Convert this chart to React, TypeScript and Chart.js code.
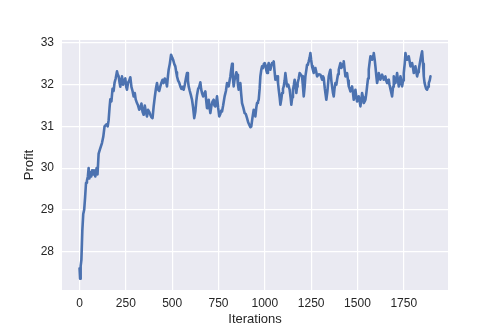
import React, { useEffect, useRef } from "react";
import { Chart, registerables } from "chart.js";

Chart.register(...registerables);

const iterations: number[] = [
  0, 3, 6, 10, 15, 20, 25, 30, 35, 40, 45, 49, 53, 58, 63, 68, 73, 78, 85, 92, 97,
  103, 110, 121, 128, 135, 145, 152, 157, 162, 166, 172, 178, 184, 189, 195, 202, 206,
  211, 216, 220, 225, 229, 235, 241, 247, 252, 256, 262, 268, 274, 280, 286, 292, 298,
  303, 310, 316, 322, 328, 334, 340, 346, 352, 358, 364, 370, 376, 382, 388, 394, 400,
  406, 412, 418, 424, 430, 436, 442, 448, 454, 460, 466, 472, 477, 481, 487, 494, 500,
  505, 511, 517, 522, 526, 532, 538, 544, 550, 556, 562, 568, 574, 580, 585, 589, 595,
  601, 607, 613, 619, 625, 630, 634, 640, 646, 652, 656, 661, 667, 673, 679, 684, 688,
  693, 697, 702, 706, 712, 718, 724, 728, 733, 738, 742, 748, 754, 760, 765, 769, 775,
  783, 790, 796, 805, 810, 814, 818, 823, 827, 832, 836, 841, 846, 850, 855, 859, 864,
  868, 872, 877, 884, 891, 897, 904, 910, 916, 922, 927, 933, 940, 944, 949, 954, 958,
  963, 967, 972, 976, 981, 985, 990, 995, 999, 1003, 1008, 1012, 1017, 1021, 1026, 1030,
  1035, 1039, 1044, 1048, 1052, 1057, 1062, 1066, 1071, 1075, 1080, 1084, 1089, 1093,
  1098, 1102, 1107, 1111, 1116, 1120, 1127, 1134, 1139, 1143, 1148, 1152, 1157, 1161,
  1166, 1170, 1174, 1177, 1183, 1188, 1195, 1201, 1206, 1210, 1215, 1219, 1224, 1228,
  1233, 1237, 1242, 1246, 1250, 1255, 1260, 1264, 1268, 1273, 1278, 1282, 1291, 1300,
  1305, 1309, 1314, 1318, 1324, 1332, 1338, 1345, 1350, 1354, 1359, 1363, 1368, 1372,
  1376, 1381, 1386, 1390, 1395, 1399, 1404, 1408, 1413, 1417, 1422, 1426, 1431, 1435,
  1440, 1444, 1449, 1453, 1458, 1462, 1467, 1471, 1476, 1480, 1485, 1489, 1494, 1498,
  1503, 1507, 1512, 1516, 1521, 1525, 1530, 1534, 1539, 1543, 1548, 1552, 1557, 1561,
  1566, 1570, 1575, 1579, 1584, 1588, 1593, 1597, 1602, 1606, 1611, 1615, 1620, 1624,
  1629, 1633, 1638, 1642, 1646, 1651, 1655, 1660, 1664, 1669, 1673, 1678, 1683, 1687,
  1692, 1696, 1701, 1705, 1710, 1714, 1719, 1723, 1728, 1732, 1737, 1741, 1746, 1750,
  1755, 1759, 1764, 1768, 1773, 1777, 1782, 1786, 1791, 1795, 1800, 1804, 1809, 1813,
  1818, 1822, 1827, 1831, 1836, 1840, 1845, 1849, 1854, 1858, 1862, 1867, 1871, 1876,
  1881, 1885, 1890, 1894,
];

const profit: number[] = [
  27.6, 27.35, 27.65, 27.8, 28.5, 28.9, 29.0, 29.3, 29.65, 29.7, 29.8, 30.0, 29.75, 29.9,
  29.8, 29.95, 29.85, 29.95, 29.8, 30.0, 29.85, 30.35, 30.45, 30.6, 30.75, 31.0, 31.05,
  31.0, 31.15, 31.45, 31.65, 31.6, 31.9, 31.85, 32.05, 32.15, 32.32, 32.25, 32.2, 32.05,
  31.95, 32.15, 32.2, 32.0, 32.1, 32.15, 31.95, 31.88, 32.05, 32.1, 32.18, 31.95, 31.85,
  31.72, 31.8, 31.65, 31.56, 31.5, 31.4, 31.44, 31.55, 31.35, 31.28, 31.5, 31.35, 31.24,
  31.4, 31.35, 31.28, 31.22, 31.2, 31.48, 31.7, 31.9, 32.04, 31.88, 31.85, 31.96, 32.05,
  32.12, 32.04, 32.15, 32.1, 31.96, 32.2, 32.36, 32.5, 32.72, 32.65, 32.6, 32.5, 32.44,
  32.3, 32.2, 32.1, 32.05, 31.96, 31.9, 31.95, 31.88, 32.0, 32.15, 32.28, 32.1, 31.96,
  31.85, 31.75, 31.64, 31.45, 31.2, 31.35, 31.6, 31.75, 31.9, 31.95, 32.06, 31.9, 31.8,
  31.72, 31.78, 31.84, 31.6, 31.44, 31.55, 31.64, 31.45, 31.32, 31.5, 31.6, 31.64, 31.5,
  31.48, 31.6, 31.72, 31.45, 31.24, 31.3, 31.38, 31.36, 31.5, 31.72, 31.85, 32.04, 31.96,
  32.1, 32.2, 32.35, 32.5, 32.2, 31.96, 32.1, 32.2, 32.3, 32.24, 32.0, 31.88, 31.95,
  32.04, 31.8, 31.56, 31.45, 31.32, 31.3, 31.2, 31.1, 31.04, 30.98, 31.0, 31.2, 31.4,
  31.3, 31.24, 31.45, 31.56, 31.6, 31.64, 31.9, 32.2, 32.36, 32.44, 32.4, 32.5, 32.52,
  32.48, 32.35, 32.28, 32.45, 32.52, 32.45, 32.36, 32.45, 32.52, 32.5, 32.56, 32.35,
  32.12, 32.15, 32.2, 32.05, 31.88, 31.7, 31.52, 31.65, 31.8, 31.9, 31.96, 32.1, 32.28,
  32.1, 31.96, 32.0, 31.88, 31.7, 31.52, 31.7, 31.88, 32.0, 32.12, 31.95, 31.8, 31.95,
  32.04, 32.15, 32.28, 32.24, 32.2, 31.95, 31.72, 31.95, 32.2, 32.35, 32.48, 32.5, 32.56,
  32.65, 32.76, 32.6, 32.44, 32.35, 32.28, 32.35, 32.4, 32.3, 32.2, 32.25, 32.24, 32.18,
  32.12, 32.2, 32.16, 31.9, 31.64, 31.85, 32.2, 32.3, 32.36, 32.1, 31.96, 31.8, 31.72,
  31.9, 32.04, 32.0, 32.12, 32.25, 32.36, 32.45, 32.52, 32.4, 32.44, 32.5, 32.56, 32.35,
  32.2, 32.25, 32.28, 32.1, 31.96, 31.9, 31.84, 31.9, 31.96, 31.8, 31.64, 31.75, 31.88,
  31.7, 31.6, 31.65, 31.72, 31.6, 31.48, 31.65, 31.8, 31.7, 31.56, 31.6, 31.64, 31.8,
  31.96, 32.15, 32.36, 32.55, 32.68, 32.62, 32.6, 32.7, 32.76, 32.6, 32.44, 32.2, 32.04,
  32.15, 32.28, 32.2, 32.12, 32.2, 32.24, 32.18, 32.12, 32.16, 32.2, 32.1, 32.04, 32.1,
  32.12, 32.0, 31.9, 31.8, 31.72, 31.95, 32.2, 32.1, 32.04, 32.15, 32.28, 32.1, 31.96,
  32.05, 32.2, 32.1, 31.96, 32.1, 32.28, 32.5, 32.76, 32.65, 32.6, 32.65, 32.68, 32.55,
  32.44, 32.48, 32.52, 32.4, 32.28, 32.36, 32.44, 32.3, 32.2, 32.3, 32.36, 32.5, 32.6,
  32.72, 32.8, 32.5, 32.2, 32.05, 31.96, 31.9, 31.88, 31.95, 32.04, 32.1, 32.2,
];

const xTicks: number[] = [0, 250, 500, 750, 1000, 1250, 1500, 1750];
const yTicks: number[] = [28, 29, 30, 31, 32, 33];

const xLabel = "Iterations";
const yLabel = "Profit";

const FONT = "'Liberation Sans', Arial, Helvetica, sans-serif";
const TEXT = "#262626";

export default function App() {
  const ref = useRef<HTMLCanvasElement | null>(null);

  useEffect(() => {
    if (!ref.current) return;
    const xMinD = Math.min(...iterations);
    const xMaxD = Math.max(...iterations);
    const yMinD = Math.min(...profit);
    const yMaxD = Math.max(...profit);
    const xm = (xMaxD - xMinD) * 0.05;
    const ym = (yMaxD - yMinD) * 0.05;

    const bg = {
      id: "bg",
      beforeDraw(chart: any) {
        const { ctx, chartArea } = chart;
        ctx.save();
        ctx.fillStyle = "#EAEAF2";
        ctx.fillRect(chartArea.left, chartArea.top, chartArea.right - chartArea.left, chartArea.bottom - chartArea.top);
        ctx.restore();
      },
    };

    const chart = new Chart(ref.current, {
      type: "line",
      data: {
        datasets: [
          {
            data: iterations.map((x, i) => ({ x, y: profit[i] })),
            borderColor: "#4C72B0",
            borderWidth: 2.6,
            borderJoinStyle: "round",
            borderCapStyle: "round",
            pointRadius: 0,
            tension: 0,
            fill: false,
          },
        ],
      },
      options: {
        animation: false,
        responsive: false,
        maintainAspectRatio: false,
        layout: { padding: { left: 0, top: 40, right: 50, bottom: 0 } },
        plugins: { legend: { display: false }, tooltip: { enabled: false } },
        scales: {
          x: {
            type: "linear",
            min: xMinD - xm,
            max: xMaxD + xm,
            afterFit: (s: any) => { s.height = 42; },
            afterBuildTicks: (s: any) => { s.ticks = xTicks.map((v) => ({ value: v })); },
            grid: { color: "#FFFFFF", lineWidth: 1.2, drawTicks: false },
            border: { display: false },
            ticks: {
              padding: 6, color: TEXT, font: { family: FONT, size: 12 }, maxRotation: 0, autoSkip: false,
              callback: (v: any) => String(v),
            },
            title: { display: true, text: xLabel, color: TEXT, font: { family: FONT, size: 13 }, padding: { top: 0, bottom: 5 } },
          },
          y: {
            type: "linear",
            min: yMinD - ym,
            max: yMaxD + ym,
            afterFit: (s: any) => { s.width = 62; },
            afterBuildTicks: (s: any) => { s.ticks = yTicks.map((v) => ({ value: v })); },
            grid: { color: "#FFFFFF", lineWidth: 1.2, drawTicks: false },
            border: { display: false },
            ticks: {
              padding: 8, color: TEXT, font: { family: FONT, size: 12 }, autoSkip: false,
              callback: (v: any) => String(v),
            },
            title: { display: true, text: yLabel, color: TEXT, font: { family: FONT, size: 13 }, padding: { top: 22, bottom: 22 } },
          },
        },
      },
      plugins: [bg],
    });
    return () => chart.destroy();
  }, []);

  return (
    <div style={{ position: "fixed", left: 0, top: 0, width: 498, height: 332, background: "#FFFFFF" }}>
      <canvas ref={ref} width={498} height={332} style={{ width: 498, height: 332 }} />
    </div>
  );
}
